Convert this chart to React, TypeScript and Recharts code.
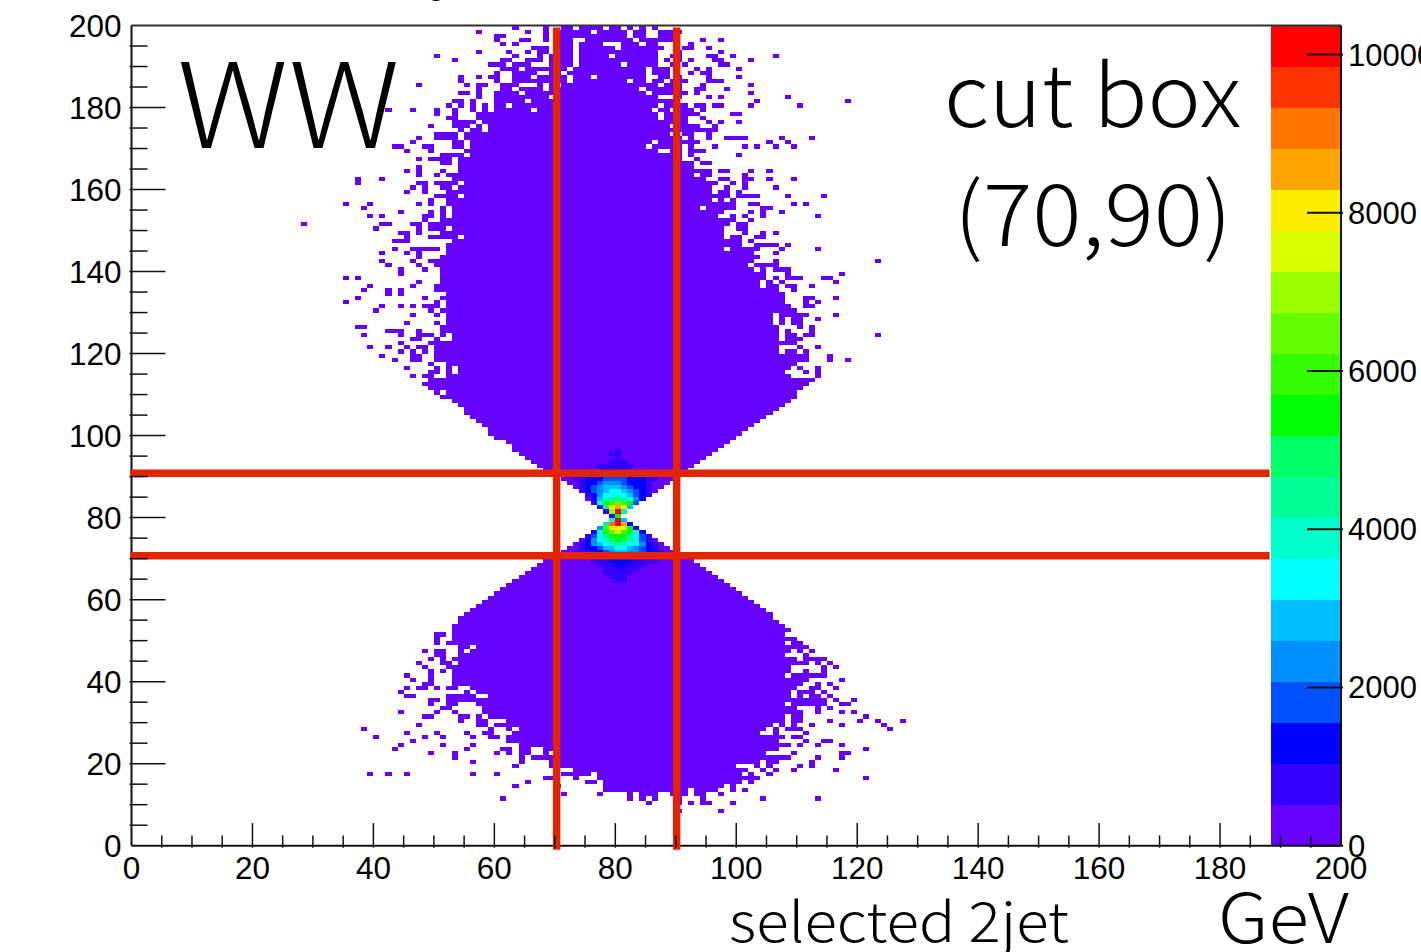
import { ScatterChart, Scatter, XAxis, YAxis, ReferenceLine, ReferenceArea } from 'recharts';

const xTicks = Array.from({ length: 41 }, (_, i) => i * 5);
const yTicks = xTicks;
const colorTicks = [0, 2000, 4000, 6000, 8000, 10000];
const cutLinesX = [70.3, 90.15];
const cutLinesY = [70.7, 90.8];

// palette from bottom to top of the colour bar
const palette = [
  '#6600ff', '#3300ff', '#0000ff', '#0050ff', '#0090ff', '#00bfff', '#00ffff', '#00ffcc', '#00ff99', '#00ff66',
  '#00ff00', '#33ff00', '#66ff00', '#99ff00', '#dcff00', '#ffee00', '#ffa500', '#ff7700', '#ff3300', '#ff0000',
];

// filled bins per row: [y bin, runs of x bins]
const topRows: [number, string][] = [
  [199, '63,68,71-72,74-77,79-80,82,84,86'],
  [198, '57,65,68,70-75,77-81,83-84,87-90'],
  [197, '60-61,68,70-81,83-84,87-89'],
  [196, '60,64-65,68,70-72,75-82,84-89,94,97'],
  [195, '61,63,70-72,74-77,81-83,85-86,92'],
  [194, '66-68,70-72,74-79,81-87,91-92,95'],
  [193, '57,62,65,67-68,70-72,74-86,90,97'],
  [192, '50,63,67,69-72,74-78,80-86,89-90,95-96,99,106'],
  [191, '53,61-62,65-67,69-72,74-86,88,90,92,96-97,102'],
  [190, '59-61,63-65,69-72,74-80,82-86,89,91,97-98'],
  [189, '61-63,65-71,73-84,86-88,93,95,100'],
  [188, '60,63-66,69-70,72-84,86-88,92,94-95'],
  [187, '54,57,59-60,63-65,67-71,73-75,77-84,87-88,90,95,100'],
  [186, '54,60,63-71,73-81,83-84,86-87,89-91,95-97'],
  [185, '47,55,57-58,61-63,67,69,71-86,88-90,94,102'],
  [184, '57,61-62,64-67,69-83,85-90,93-94,98'],
  [183, '54-55,57,60-63,65-84,86-91,93,102'],
  [182, '57,60-68,70-86,90,95,97,108'],
  [181, '53-54,56,60-64,66-89,103,118'],
  [180, '52,54,56,58,60-61,63-86,88-91,93-94,96-97,102,110'],
  [179, '42,46,50,53,56,58,60-65,67-85,87-88,90-92,94'],
  [178, '50,53,57-86,88-93,99-100'],
  [177, '52-53,57-86,88-91,94'],
  [176, '53-56,58-91,95,97,100'],
  [175, '49,53-55,57,59-88,90-93,96'],
  [174, '54,56-57,59-96'],
  [173, '50-53,55-88,91-92,95'],
  [172, '47,50-53,55-90,92,95,98-101,107,112'],
  [171, '46,53-54,56-85,87-93,105,108'],
  [170, '43-44,48-49,53-54,56-84,86-90,92,96,101,103,106,109'],
  [169, '45,49,55-86,89-90,92-94'],
  [168, '51-54,56-88,89-90,92,100'],
  [167, '47,49-52,54-90,93'],
  [166, '51-52,54-92,94-95'],
  [165, '47,54-92'],
  [164, '45,47,51,54-95,97-98,102,105'],
  [163, '47,50,52-92,94-95,101'],
  [162, '37,41,53-94,97-98,101-102,105,109'],
  [161, '37,47-48,50-53,55-96,99,101'],
  [160, '46,48,51-52,54-95,98,101,106'],
  [159, '45,48,52-95,97-98,100'],
  [158, '50-53,55-98,100-103,108,114'],
  [157, '49,52-95,97,99'],
  [156, '35,39,47,49,52-99,102-103,109,111'],
  [155, '38,51,53-93,95-99,104-105'],
  [154, '44,49,51,53-97,102,104,107'],
  [153, '39,41,48-49,51,53-96,99,101,104,113'],
  [152, '48,51-99,102'],
  [151, '28,41-42,46-47,49-98,100-101'],
  [150, '40,47,49-51,53-97,100-101'],
  [149, '44-45,47,51-97,101,104,106'],
  [148, '45,49-53,55-97,99-100,103-104'],
];

const midRows: [number, string][] = [
  [147, '43-45,53-100,102'],
  [146, '52-100,103-106,108'],
  [145, '43,46-50,52-97,99-103,107,113'],
  [144, '41,45,47,52-102,106'],
  [143, '47,51-103'],
  [142, '41,46,49-102,106,123'],
  [141, '42,47,50-101,103-106'],
  [140, '44,48,51-102,104,106-108'],
  [139, '44,51-104,108,117'],
  [138, '35,37,51-104,106,108-110,114-115'],
  [137, '47,51-103,105,107,116'],
  [136, '39,46,50-103,105-106,108-109,112'],
  [135, '38,42,44,50-106,109'],
  [134, '42,44,52-107'],
  [133, '37,48,51-107,111-112,116'],
  [132, '35,50,52-107,111,113'],
  [131, '41,44,46,48-50,52-108,111-112'],
  [130, '40,49,51-109'],
  [129, '46,50,52-105,107-111,116'],
  [128, '52-105,107,109-110,113'],
  [127, '45,50,52-105,107,109-110'],
  [126, '37-38,51-106,110,112'],
  [125, '42-44,47,51-106,108,112'],
  [124, '38,44,47-49,51,53-106,108-109,111-112,123'],
  [123, '46-47,50,53-106,108-110'],
  [122, '44,49-109'],
  [121, '39,42,45,47-48,50-106,110,113'],
  [120, '44,46,48,50-106,108-109,111'],
  [119, '41,46-47,50-111,115'],
  [118, '43,46-47,50-111,115,118'],
  [117, '49,52-109'],
  [116, '45,50,52,54-108,110,113'],
  [115, '49-50,52,54-107,111,113'],
  [114, '46,48-49,52-108,113'],
  [113, '49-112'],
  [112, '48-111'],
  [111, '49-110'],
  [110, '50,52-109'],
  [109, '51-109'],
  [108, '53-108'],
  [107, '54-107'],
  [106, '55-106'],
  [105, '55-105'],
  [104, '56-104'],
  [103, '57-103'],
  [102, '58-102'],
  [101, '59-101'],
  [100, '59-100'],
  [99, '60-99'],
  [98, '62-98'],
  [97, '63-97'],
];

const neckRows: [number, string][] = [
  [96, '63-79,81-96'],
  [95, '64-78,81-95'],
  [94, '65-79,81-94'],
  [93, '66-78,82-93'],
  [92, '67-76,83-92'],
  [91, '68-76,83-91'],
  [90, '69-76,83-90'],
  [69, '68-75,87-92'],
  [68, '67-76,85-93'],
  [67, '66-77,84-94'],
  [66, '65-77,83-95'],
  [65, '64-78,82-96'],
  [64, '63-79,82-97'],
  [63, '62-98'],
  [62, '61-99'],
  [61, '60-100'],
  [60, '59-101'],
  [59, '58-102'],
  [58, '57-103'],
  [57, '56-104'],
  [56, '55-105'],
  [55, '54-105'],
];

const bottomRows: [number, string][] = [
  [54, '54-106'],
  [53, '53-107'],
  [52, '53-108'],
  [51, '50-51,53-107'],
  [50, '50,53-109'],
  [49, '50,52-107,109-110'],
  [48, '54-55,57-111'],
  [47, '48,50-51,54,56-108,110,112'],
  [46, '50-51,54-107,111'],
  [45, '49,51,53-109,111-114'],
  [44, '47,51-52,54-111,113,115'],
  [43, '48,52-108,114,116'],
  [42, '49,51,53-108,111,114'],
  [41, '45,49,53-107,109-114'],
  [40, '46,49,53-111,117'],
  [39, '48-49,53-110,113,115'],
  [38, '45,47-48,50,52-53,56-109,112-113,116'],
  [37, '44,55,57-108,110-112,114'],
  [36, '45-46,52-56,59-108,110,112-113,115'],
  [35, '49-50,52-114,116,119'],
  [34, '49,52-53,57-107,109-114,117-118'],
  [33, '51-52,58-109,113,115'],
  [32, '44,50,53,58-110,113,117,119'],
  [31, '48-49,54-55,57,59-107,109-110,121'],
  [30, '54,57-58,62-107,109-110,115,120,123,127'],
  [29, '47,57-58,60-105,107,109,112,117,124'],
  [28, '38,59,62,64-104,106,108-110,125'],
  [27, '45,50,55,58-59,63-103,106,111'],
  [26, '40,48,51,56,59-60,62-107,109-110'],
  [25, '46,62-106,111,114-115'],
  [24, '44,51,56,64-108,110,113,117'],
  [23, '43,55,61-62,64-65,68-106,121'],
  [22, '49,53,60,62,64-65,68,70-104,109,117-118'],
  [21, '53,64,66-108,113,117'],
  [20, '56,64,69-103,105-106,112'],
  [19, '63,69-99,103,105,110,112'],
  [18, '73-101,104,106,109,116'],
  [17, '39,42,45,56,60,71-75,77-100,102,105'],
  [16, '68-69,73,77-103,121'],
  [15, '65,75-76,78-100,102'],
  [14, '63,70,78-97,99'],
  [13, '78-91,93-96,99,101'],
  [12, '71,77,82,84-86,89-91,93-94,97'],
  [11, '61,82,84,86,90,94,104,113'],
  [10, '85,90,92,94-95,99'],
  [8, '90,97'],
];

// colour levels around the W peak: [y bin, first x bin, levels]
const peakRows: [number, number, number[]][] = [
  [96, 80, [1]],
  [95, 79, [1, 1]],
  [94, 80, [1]],
  [93, 79, [1, 1, 1]],
  [92, 77, [1, 1, 1, 1, 1, 1]],
  [91, 77, [1, 1, 1, 1, 1, 1]],
  [90, 77, [1, 1, 2, 2, 1, 1]],
  [89, 71, [0, 0, 1, 1, 2, 2, 2, 3, 3, 3, 3, 2, 2, 2, 1, 1, 0, 0, 0]],
  [88, 72, [0, 0, 1, 2, 2, 3, 4, 4, 4, 3, 2, 2, 2, 1, 0, 0, 0]],
  [87, 73, [0, 1, 2, 3, 4, 5, 5, 5, 4, 3, 2, 2, 1, 0, 0]],
  [86, 74, [1, 2, 3, 4, 5, 6, 6, 5, 4, 3, 2, 1, 0]],
  [85, 75, [1, 2, 4, 6, 6, 6, 6, 5, 3, 2, 1]],
  [84, 75, [0, 2, 5, 7, 8, 8, 8, 6, 4, 2]],
  [83, 76, [1, 6, 10, 11, 12, 11, 10, 3]],
  [82, 77, [1, 8, 15, 16, 15, 5]],
  [81, 78, [1, 13, 19, 8]],
  [80, 79, [1, 10]],
  [79, 79, [7, 19, 5]],
  [78, 78, [8, 17, 19, 16, 2]],
  [77, 77, [4, 11, 15, 15, 14, 10, 2]],
  [76, 76, [2, 6, 10, 12, 14, 11, 10, 6, 2]],
  [75, 75, [1, 3, 6, 8, 10, 10, 10, 8, 6, 3, 1]],
  [74, 74, [0, 2, 4, 6, 7, 9, 10, 9, 8, 6, 3, 1, 0]],
  [73, 73, [0, 1, 2, 4, 5, 6, 7, 8, 7, 6, 6, 4, 2, 1, 0]],
  [72, 72, [0, 0, 1, 2, 2, 3, 5, 5, 6, 6, 5, 4, 3, 2, 1, 0, 0]],
  [71, 71, [0, 0, 1, 1, 1, 2, 2, 3, 4, 5, 5, 4, 4, 3, 2, 2, 1, 0, 0]],
  [70, 70, [0, 0, 0, 1, 1, 1, 1, 2, 2, 3, 4, 4, 3, 2, 2, 2, 1, 1, 0, 0, 0]],
  [69, 76, [1, 1, 1, 2, 2, 2, 2, 1, 1, 1, 1]],
  [68, 77, [1, 1, 1, 2, 2, 1, 1, 1]],
  [67, 78, [1, 1, 1, 1, 1, 1]],
  [66, 78, [1, 1, 1, 1, 1]],
  [65, 79, [1, 1, 1]],
  [64, 80, [1, 1]],
];

const axisColor = '#111';
const labelFont = '"Liberation Sans", Arial, sans-serif';
const bigFont = '"Noto Sans CJK JP", "Noto Sans", sans-serif';
const plotWidth = 1209.5;
const plotHeight = 820.2;
const binW = plotWidth / 200;
const binH = plotHeight / 200;

function expandRuns(rows: [number, string][]) {
  const cells: { x: number; y: number; level: number }[] = [];
  rows.forEach(([y, runs]) => {
    runs.split(',').forEach((run) => {
      const [a, b] = run.split('-').map(Number);
      for (let x = a; x <= (b ?? a); x++) cells.push({ x: x + 0.5, y: y + 0.5, level: 0 });
    });
  });
  return cells;
}

const cells = [...expandRuns(topRows), ...expandRuns(midRows), ...expandRuns(neckRows), ...expandRuns(bottomRows)];
peakRows.forEach(([y, first, levels]) => {
  levels.forEach((level, i) => cells.push({ x: first + i + 0.5, y: y + 0.5, level }));
});

const colorAnchors = colorTicks.map((z) => ({ x: 194, y: z }));

function BinCell(props: any) {
  const level = props.payload?.level ?? props.level ?? 0;
  return (
    <rect
      x={props.cx - binW / 2}
      y={props.cy - binH / 2}
      width={binW}
      height={binH}
      fill={palette[level]}
      shapeRendering="crispEdges"
    />
  );
}

function XTick({ x, y, payload }: any) {
  const v = payload.value;
  const major = v % 20 === 0;
  if (v === 0 || v === 200) {
    return (
      <text x={x} y={y + 31} textAnchor="middle" fontFamily={labelFont} fontSize={31.5} fill="#000">
        {v}
      </text>
    );
  }
  return (
    <g>
      <line x1={x} x2={x} y1={y} y2={y - (major ? 24.6 : 12.3)} stroke={axisColor} strokeWidth={1.5} />
      {major && (
        <text x={x} y={y + 31} textAnchor="middle" fontFamily={labelFont} fontSize={31.5} fill="#000">
          {v}
        </text>
      )}
    </g>
  );
}

function YTick({ x, y, payload }: any) {
  const v = payload.value;
  const major = v % 20 === 0;
  return (
    <g>
      {v !== 0 && v !== 200 && (
        <line x1={x} x2={x + (major ? 36 : 18)} y1={y} y2={y} stroke={axisColor} strokeWidth={1.5} />
      )}
      {major && (
        <text x={x - 8} y={y + 11.5} textAnchor="end" fontFamily={labelFont} fontSize={31.5} fill="#000">
          {v}
        </text>
      )}
    </g>
  );
}

function ColorTick({ x, y, payload }: any) {
  return (
    <g>
      <line x1={x} x2={x - 36} y1={y} y2={y} stroke={axisColor} strokeWidth={2} />
      <text x={x + 5} y={y + 11} textAnchor="start" fontFamily={labelFont} fontSize={31} fill="#000">
        {payload.value}
      </text>
    </g>
  );
}

export default function App() {
  return (
    <div style={{ position: 'absolute', left: 0, top: 0, width: 1421, height: 952, overflow: 'hidden', background: '#fff' }}>
      <ScatterChart width={1421} height={952} margin={{ top: 25.5, right: 0, bottom: 0, left: 0 }}>
        <XAxis
          type="number"
          dataKey="x"
          domain={[0, 200]}
          ticks={xTicks}
          interval={0}
          height={106.3}
          tickLine={false}
          tickSize={0}
          tick={<XTick />}
          stroke={axisColor}
          strokeWidth={2}
        />
        <YAxis
          type="number"
          dataKey="y"
          domain={[0, 200]}
          ticks={yTicks}
          interval={0}
          width={131.5}
          tickLine={false}
          tickSize={0}
          tick={<YTick />}
          stroke={axisColor}
          strokeWidth={2}
        />
        <YAxis
          yAxisId="colour"
          orientation="right"
          type="number"
          dataKey="y"
          domain={[0, 10367]}
          ticks={colorTicks}
          interval={0}
          width={80}
          tickLine={false}
          tickSize={0}
          tick={<ColorTick />}
          stroke={axisColor}
          strokeWidth={2}
        />
        <Scatter data={cells} shape={<BinCell />} isAnimationActive={false} />
        <Scatter yAxisId="colour" data={colorAnchors} shape={() => <g />} isAnimationActive={false} />
        {palette.map((color, i) => (
          <ReferenceArea
            key={color}
            x1={188.4}
            x2={199.8}
            y1={i * 10}
            y2={(i + 1) * 10}
            fill={color}
            fillOpacity={1}
            stroke="none"
            shapeRendering="crispEdges"
          />
        ))}
        <ReferenceLine y={200} stroke="#333" strokeWidth={2} ifOverflow="visible" />
        {cutLinesY.map((y) => (
          <ReferenceLine
            key={y}
            segment={[{ x: -0.2, y }, { x: 188.2, y }]}
            stroke="#e32400"
            strokeWidth={7.5}
            ifOverflow="visible"
            zIndex={1500}
          />
        ))}
        {cutLinesX.map((x) => (
          <ReferenceLine
            key={x}
            segment={[{ x, y: -1 }, { x, y: 199.5 }]}
            stroke="#e32400"
            strokeWidth={7.5}
            ifOverflow="visible"
            zIndex={1500}
          />
        ))}
      </ScatterChart>
      <svg width={1421} height={952} style={{ position: 'absolute', left: 0, top: 0, pointerEvents: 'none' }}>
        <text x={428} y={-5} fontFamily={labelFont} fontSize={30} fill="#000">g</text>
        <text x={177} y={148} fontFamily={bigFont} fontWeight={300} fontSize={118} fill="#000" textLength={223} lengthAdjust="spacingAndGlyphs">WW</text>
        <text x={944} y={127} fontFamily={bigFont} fontWeight={300} fontSize={86} fill="#000" textLength={297} lengthAdjust="spacingAndGlyphs">cut box</text>
        <text x={954} y={246} fontFamily={bigFont} fontWeight={300} fontSize={86} fill="#000" textLength={278} lengthAdjust="spacingAndGlyphs">(70,90)</text>
        <text x={729} y={942} fontFamily={bigFont} fontWeight={300} fontSize={55} fill="#000" textLength={340} lengthAdjust="spacingAndGlyphs">selected 2jet</text>
        <text x={1218} y={943} fontFamily={bigFont} fontWeight={300} fontSize={68} fill="#000" textLength={131} lengthAdjust="spacingAndGlyphs">GeV</text>
      </svg>
    </div>
  );
}
